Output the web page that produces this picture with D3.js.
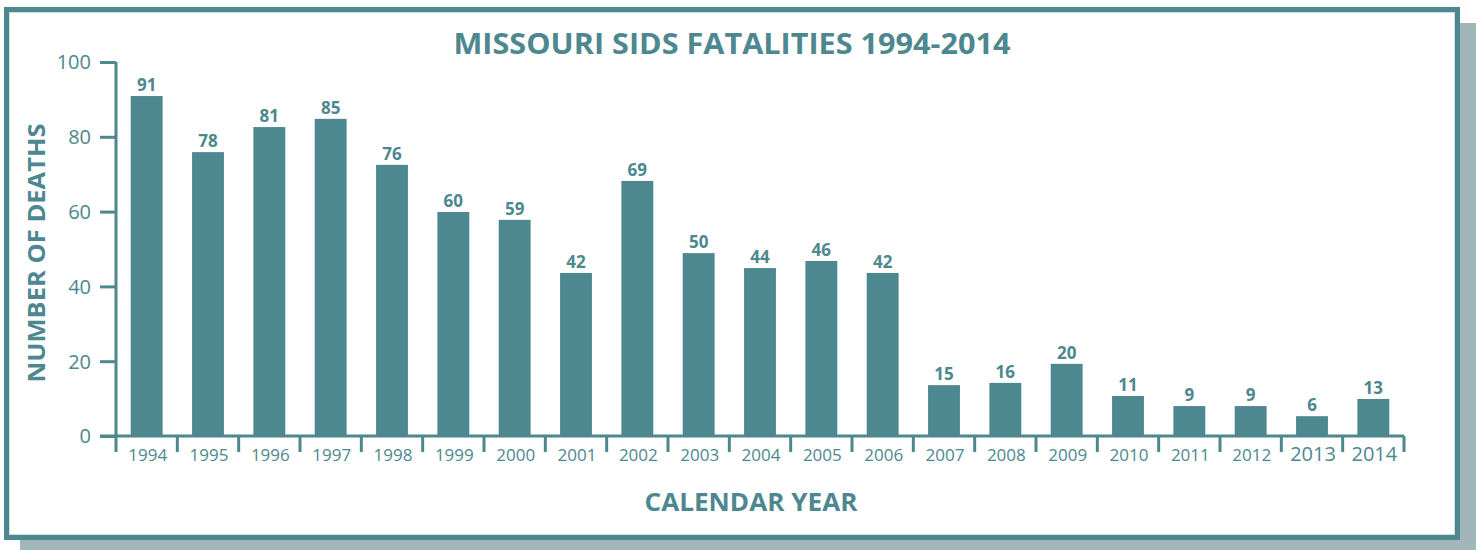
<!DOCTYPE html>
<html><head><meta charset="utf-8">
<script src="https://cdn.jsdelivr.net/npm/d3@7"></script>
<style>html,body{margin:0;padding:0;background:#fff;}svg{display:block;font-family:"Open Sans",sans-serif;}</style>
</head><body><svg id="c" width="1478" height="550"></svg>
<script>
const years = ["1994","1995","1996","1997","1998","1999","2000","2001","2002","2003","2004","2005","2006","2007","2008","2009","2010","2011","2012","2013","2014"];
const deathLabels = [91,78,81,85,76,60,59,42,69,50,44,46,42,15,16,20,11,9,9,6,13];
const barHeights = [90.9,75.9,82.6,84.8,72.5,59.9,57.8,43.6,68.2,48.9,44.9,46.8,43.6,13.6,14.2,19.3,10.7,8.0,8.0,5.3,9.9];
const yTicks = [0,20,40,60,80,100];

const teal = "#4d878f";
const svg = d3.select("#c");

// shadow and frame
svg.append("rect").attr("x",20).attr("y",23).attr("width",1456).attr("height",540).attr("fill","#a1b5bb");
svg.append("rect").attr("x",6.5).attr("y",9.5).attr("width",1451).attr("height",528).attr("fill","#fff").attr("stroke",teal).attr("stroke-width",5);
svg.append("rect").attr("x",9.5).attr("y",12.5).attr("width",1445).attr("height",522).attr("fill","none").attr("stroke","#c9dde0").attr("stroke-width",1);

const x = d3.scaleBand().domain(years).range([116,1404]).paddingInner(0.48).paddingOuter(0.24);
const y = d3.scaleLinear().domain([0,100]).range([436,62]);

// bars
svg.append("g").selectAll("rect").data(years).join("rect")
  .attr("x",d=>x(d)).attr("width",x.bandwidth())
  .attr("y",(d,i)=>y(barHeights[i])).attr("height",(d,i)=>y(0)-y(barHeights[i]))
  .attr("fill",teal);

// value labels
svg.append("g").selectAll("text").data(years).join("text")
  .attr("x",d=>x(d)+x.bandwidth()/2).attr("y",(d,i)=>y(barHeights[i])-5)
  .attr("text-anchor","middle").attr("font-weight","bold").attr("font-size",17).attr("fill",teal)
  .text((d,i)=>deathLabels[i]);

// y axis
const yAxis = d3.axisLeft(y).tickValues(yTicks).tickSize(16).tickPadding(9).tickSizeOuter(0);
const gy = svg.append("g").attr("transform","translate(116,0)").call(yAxis);
gy.select(".domain").attr("stroke",teal).attr("stroke-width",3).attr("d","M0,436V62");
gy.selectAll(".tick line").attr("stroke",teal).attr("stroke-width",3).attr("x2",-16);
gy.selectAll(".tick text").attr("fill",teal).attr("font-size",20).attr("font-family","Open Sans, sans-serif").attr("dy","0.34em");
gy.select(".tick:last-of-type line").attr("x1",0);

// x axis: baseline + boundary ticks
svg.append("line").attr("x1",100).attr("x2",1404).attr("y1",436).attr("y2",436).attr("stroke",teal).attr("stroke-width",3);
const step = x.step();
const bounds = years.map(d=>x(d)-x.bandwidth()*0 - (step - x.bandwidth())/2).concat([x(years[years.length-1])+x.bandwidth()+(step-x.bandwidth())/2]);
svg.append("g").selectAll("line").data(bounds).join("line")
  .attr("x1",d=>d).attr("x2",d=>d).attr("y1",436).attr("y2",452)
  .attr("stroke",teal).attr("stroke-width",3);
svg.append("g").selectAll("text").data(years).join("text")
  .attr("x",d=>x(d)+x.bandwidth()/2+1).attr("y",461)
  .attr("text-anchor","middle").attr("font-size",(d,i)=>i>=19?20:17).attr("fill",teal)
  .text(d=>d);

// titles
svg.append("text").attr("x",732).attr("y",54).attr("text-anchor","middle").attr("font-weight","bold")
  .attr("font-size",29).attr("fill",teal).attr("textLength",557).attr("lengthAdjust","spacingAndGlyphs")
  .text("MISSOURI SIDS FATALITIES 1994-2014");
svg.append("text").attr("x",751).attr("y",511).attr("text-anchor","middle").attr("font-weight","bold")
  .attr("font-size",25).attr("fill",teal).attr("textLength",213).attr("lengthAdjust","spacingAndGlyphs")
  .text("CALENDAR YEAR");
svg.append("text").attr("transform","translate(45,253) rotate(-90)").attr("text-anchor","middle").attr("font-weight","bold")
  .attr("font-size",24).attr("fill",teal).attr("textLength",259).attr("lengthAdjust","spacingAndGlyphs")
  .text("NUMBER OF DEATHS");
</script></body></html>
